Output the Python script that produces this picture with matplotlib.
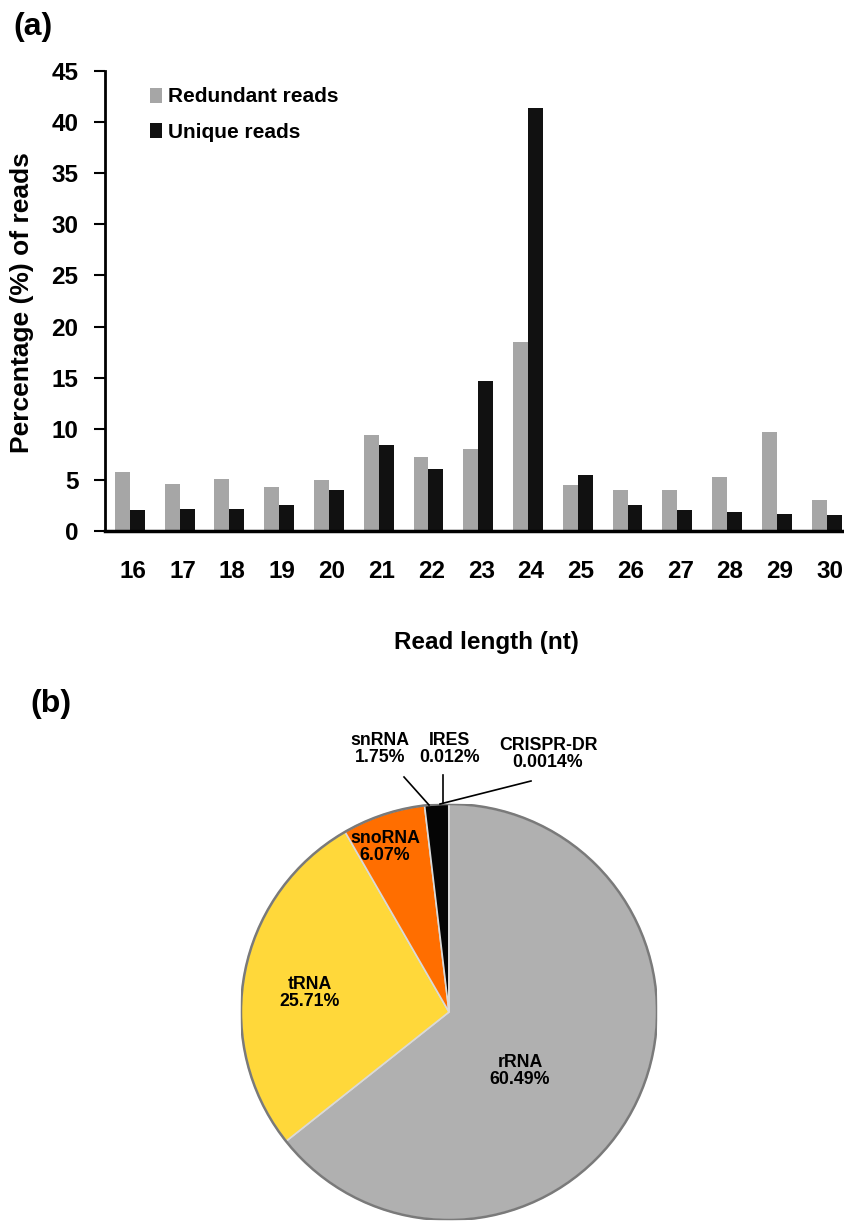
import matplotlib
matplotlib.use("Agg")
import matplotlib.pyplot as plt
import numpy as np

plt.rcParams['font.family'] = ['Liberation Sans', 'DejaVu Sans']
plt.rcParams['font.weight'] = 'bold'

# (a) read length distribution
lengths = [16, 17, 18, 19, 20, 21, 22, 23, 24, 25, 26, 27, 28, 29, 30]
redundant = [5.78, 4.64, 5.13, 4.31, 4.97, 9.38, 7.25, 8.07, 18.53, 4.48, 3.99, 3.99, 5.29, 9.70, 3.00]
unique = [2.03, 2.19, 2.19, 2.52, 3.99, 8.40, 6.11, 14.67, 41.36, 5.46, 2.52, 2.03, 1.86, 1.70, 1.54]

# (b) small RNA categories
pie_names = ['rRNA', 'tRNA', 'snoRNA', 'snRNA', 'IRES', 'CRISPR-DR']
pie_values = [60.49, 25.71, 6.07, 1.75, 0.012, 0.0014]
pie_colors = ['#b0b0b0', '#ffd83a', '#ff6e00', '#050505', '#050505', '#050505']

W, H = 845, 1223
fig = plt.figure(figsize=(W / 100, H / 100), dpi=100)

def fx(px):
    return px / W

def fy(py):
    return 1 - py / H

# ---- bar chart ----
ax = fig.add_axes([fx(105), fy(531), fx(845) - fx(105), fy(71) - fy(531)])
x = np.arange(len(lengths))
w = 0.3
ax.bar(x - w / 2, redundant, w, color='#a6a6a6', label='Redundant reads')
ax.bar(x + w / 2, unique, w, color='#111111', label='Unique reads')
ax.set_xlim(-0.5, 14.37)
ax.set_ylim(0, 45)
ax.set_yticks(range(0, 46, 5))
ax.set_xticks(x + 0.06)
ax.set_xticklabels([str(v) for v in lengths])
for s in ['top', 'right']:
    ax.spines[s].set_visible(False)
ax.spines['left'].set_linewidth(2)
ax.spines['bottom'].set_linewidth(2.5)
ax.tick_params(axis='y', length=8, width=1.5, labelsize=17.5, pad=11)
ax.tick_params(axis='x', length=0, labelsize=17.5, pad=21)
ax.set_ylabel('Percentage (%) of reads', fontsize=19, fontweight='bold')
ax.yaxis.set_label_coords(-0.112, 0.496)
ax.yaxis.label.set_va('center')
ax.set_xlabel('Read length (nt)', fontsize=17.5, fontweight='bold')
ax.xaxis.set_label_coords(0.515, -0.243)
ax.xaxis.label.set_va('center')
leg = ax.legend(loc='upper left', bbox_to_anchor=(0.036, 1.005), frameon=False, fontsize=15,
                handlelength=0.55, handleheight=0.75, handletextpad=0.3, labelspacing=0.8)

fig.text(fx(13), fy(27), '(a)', fontsize=23, fontweight='bold', va='center', ha='left')
fig.text(fx(30), fy(704), '(b)', fontsize=23, fontweight='bold', va='center', ha='left')

# ---- pie chart ----
cx, cy, r = 449, 1012, 208
pax = fig.add_axes([fx(cx - r), fy(cy + r), fx(2 * r), fy(cy - r) - fy(cy + r)])
wedges, _ = pax.pie(pie_values, colors=pie_colors, startangle=90, counterclock=False,
                    wedgeprops=dict(edgecolor='#d9d9d9', linewidth=1.2))
outer = plt.Circle((0, 0), 1.0, fill=False, edgecolor='#7a7a7a', linewidth=1.8)
pax.add_patch(outer)
pax.set_xlim(-1, 1)
pax.set_ylim(-1, 1)
pax.set_aspect('equal')
pax.axis('off')
for wdg in wedges:
    wdg.set_clip_on(False)


def d(px, py):
    return ((px - cx) / r, (cy - py) / r)


inner_labels = {'rRNA': (520, 1071), 'tRNA': (310, 993), 'snoRNA': (385, 847)}
for name, val in zip(pie_names, pie_values):
    if name in inner_labels:
        tx, ty = d(*inner_labels[name])
        pax.text(tx, ty, '%s\n%.2f%%' % (name, val), ha='center', va='center',
                 fontsize=12.8, fontweight='bold', linespacing=1.05)

outer_labels = {'snRNA': ((380, 749), (404, 777), (429, 805), '1.75%'),
                'IRES': ((450, 749), (443, 775), (443, 803), '0.012%'),
                'CRISPR-DR': ((548, 754), (531, 781), (440, 804), '0.0014%')}
for name in pie_names:
    if name in outer_labels:
        tpos, p0, p1, txt = outer_labels[name]
        tx, ty = d(*tpos)
        pax.text(tx, ty, name + '\n' + txt, ha='center', va='center', fontsize=12.8,
                 fontweight='bold', linespacing=1.05, clip_on=False)
        a, b = d(*p0)
        c, e = d(*p1)
        pax.plot([a, c], [b, e], color='black', linewidth=1.2, clip_on=False)

fig.savefig('out.png', dpi=100)
